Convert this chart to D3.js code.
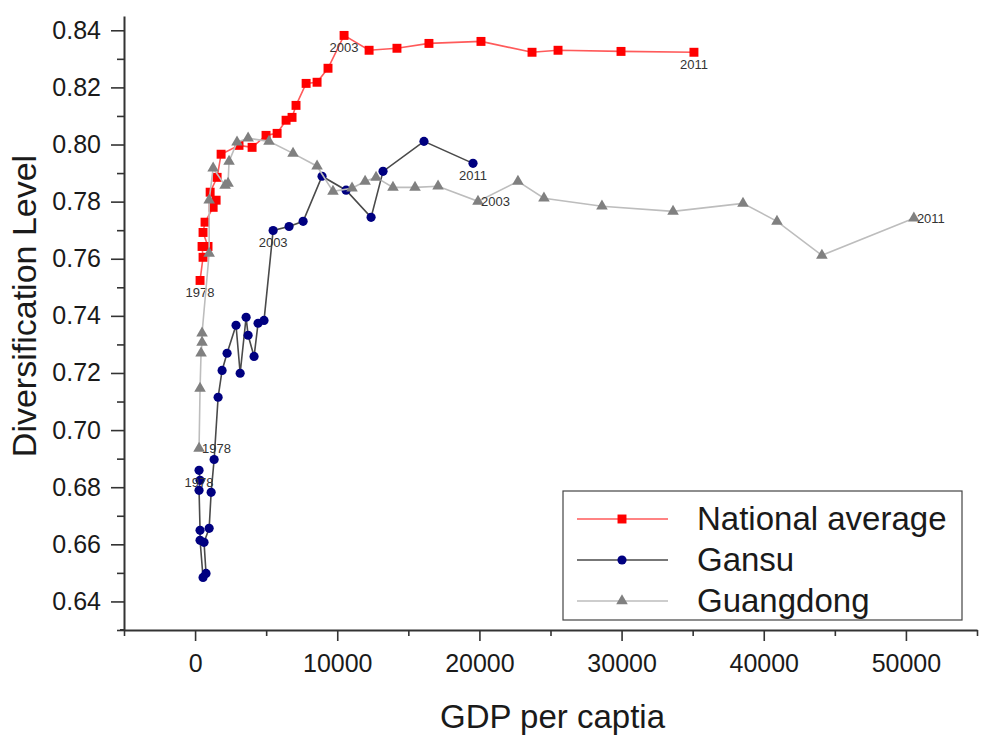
<!DOCTYPE html>
<html>
<head>
<meta charset="utf-8">
<script src="https://cdn.jsdelivr.net/npm/d3@7"></script>
<style>
  body { margin: 0; background: #fff; }
  text { font-family: "Liberation Sans", Arial, sans-serif; }
</style>
</head>
<body>
<div class="display"></div>
<script>
const WIDTH = 981;
const HEIGHT = 736;
const PLOT = { left: 124, right: 977, top: 16, bottom: 630 };

const X_TITLE = 'GDP per captia';
const Y_TITLE = 'Diversification Level';

const X_TICKS = [0, 10000, 20000, 30000, 40000, 50000];
const X_MINOR = [-5000, 5000, 15000, 25000, 35000, 45000, 55000];
const Y_TICKS = [0.64, 0.66, 0.68, 0.70, 0.72, 0.74, 0.76, 0.78, 0.80, 0.82, 0.84];
const Y_MINOR = [0.63, 0.65, 0.67, 0.69, 0.71, 0.73, 0.75, 0.77, 0.79, 0.81, 0.83];

// National average, 1978 -> 2011
const NATIONAL_GDP = [350, 560, 490, 910, 560, 700, 1270, 1480, 1060, 1550, 1830, 3090, 4010, 4990,
  5770, 6400, 6820, 7100, 7810, 8580, 9350, 10480, 12240, 14200, 16450, 20110, 23700, 25530, 29960, 35090];
const NATIONAL_DIV = [0.7524, 0.7605, 0.7643, 0.7643, 0.7692, 0.7728, 0.7780, 0.7805, 0.7833, 0.7885,
  0.7966, 0.7997, 0.7990, 0.8032, 0.8039, 0.8085, 0.8095, 0.8137, 0.8214, 0.8218, 0.8267, 0.8382,
  0.8330, 0.8337, 0.8354, 0.8361, 0.8323, 0.8330, 0.8326, 0.8323];

// Gansu
const GANSU_GDP = [280, 350, 280, 350, 350, 560, 770, 630, 990, 1130, 1340, 1620, 1900, 2250, 2880,
  3170, 3590, 3730, 4150, 4430, 4850, 5490, 6610, 7600, 8930, 10620, 12380, 13220, 16100, 19550];
const GANSU_DIV = [0.6859, 0.6824, 0.6789, 0.6649, 0.6614, 0.6484, 0.6498, 0.6607, 0.6656, 0.6782,
  0.6897, 0.7115, 0.7209, 0.7269, 0.7367, 0.7199, 0.7395, 0.7332, 0.7258, 0.7374, 0.7384, 0.7699,
  0.7713, 0.7731, 0.7889, 0.7840, 0.7745, 0.7906, 0.8011, 0.7934];

// Guangdong
const GUANGDONG_GDP = [280, 350, 420, 490, 490, 990, 990, 1270, 2110, 2320, 2390, 2950, 3730, 5200,
  6890, 8580, 9700, 11040, 11960, 12730, 13920, 15470, 17090, 19900, 22710, 24540, 28620, 33620,
  38540, 40930, 44090, 50560];
const GUANGDONG_DIV = [0.6936, 0.7146, 0.7269, 0.7307, 0.7339, 0.7619, 0.7805, 0.7917, 0.7857, 0.7864,
  0.7941, 0.8008, 0.8022, 0.8011, 0.7969, 0.7924, 0.7836, 0.7847, 0.7871, 0.7885, 0.7850, 0.7850,
  0.7854, 0.7801, 0.7871, 0.7812, 0.7784, 0.7766, 0.7794, 0.7731, 0.7612, 0.7742];

// year labels: [point index, text]
const NATIONAL_LABELS = [[0, '1978'], [21, '2003'], [29, '2011']];
const GANSU_LABELS = [[0, '1978'], [21, '2003'], [29, '2011']];
const GUANGDONG_LABELS = [[0, '1978'], [23, '2003'], [31, '2011']];

const SERIES = [
  { name: 'National average', gdp: NATIONAL_GDP, div: NATIONAL_DIV, labels: NATIONAL_LABELS,
    line: '#ff5a5a', fill: '#ff0000', symbol: d3.symbolSquare, size: 80, labelSide: 'below' },
  { name: 'Gansu', gdp: GANSU_GDP, div: GANSU_DIV, labels: GANSU_LABELS,
    line: '#4a4a4a', fill: '#000080', symbol: d3.symbolCircle, size: 66, labelSide: 'below' },
  { name: 'Guangdong', gdp: GUANGDONG_GDP, div: GUANGDONG_DIV, labels: GUANGDONG_LABELS,
    line: '#bdbdbd', fill: '#808080', symbol: d3.symbolTriangle, size: 58, labelSide: 'right' }
];

let svg, x, y;

function setupSvg() {
  svg = d3.select('.display')
    .append('svg')
    .attr('width', WIDTH)
    .attr('height', HEIGHT);

  x = d3.scaleLinear().domain([-5000, 55000]).range([PLOT.left, PLOT.right]);
  y = d3.scaleLinear().domain([0.63, 0.845]).range([PLOT.bottom, PLOT.top]);
}

function drawAxes() {
  const xAxis = svg.append('g')
    .attr('transform', `translate(0, ${PLOT.bottom})`)
    .call(d3.axisBottom(x).tickValues(X_TICKS).tickFormat(d3.format('d'))
      .tickSize(11).tickSizeOuter(0).tickPadding(13));
  xAxis.selectAll('text').style('font-size', '25px').attr('fill', '#1a1a1a');

  svg.append('g')
    .attr('transform', `translate(0, ${PLOT.bottom})`)
    .call(d3.axisBottom(x).tickValues(X_MINOR).tickFormat('').tickSize(6).tickSizeOuter(0))
    .select('.domain').remove();

  const yAxis = svg.append('g')
    .attr('transform', `translate(${PLOT.left}, 0)`)
    .call(d3.axisLeft(y).tickValues(Y_TICKS).tickFormat(d3.format('.2f'))
      .tickSize(13).tickSizeOuter(0).tickPadding(10));
  yAxis.selectAll('text').style('font-size', '25px').attr('fill', '#1a1a1a');

  svg.append('g')
    .attr('transform', `translate(${PLOT.left}, 0)`)
    .call(d3.axisLeft(y).tickValues(Y_MINOR).tickFormat('').tickSize(7).tickSizeOuter(0))
    .select('.domain').remove();

  svg.selectAll('.domain').attr('stroke', '#333').attr('stroke-width', 2);
  svg.selectAll('.tick line').attr('stroke', '#333').attr('stroke-width', 1.6);

  // small overhang of the x axis to the left of the y axis
  svg.append('line')
    .attr('x1', PLOT.left - 4).attr('x2', PLOT.left)
    .attr('y1', PLOT.bottom).attr('y2', PLOT.bottom)
    .attr('stroke', '#333').attr('stroke-width', 2);

  svg.append('text')
    .attr('x', (PLOT.left + PLOT.right) / 2 + 2)
    .attr('y', 728)
    .attr('text-anchor', 'middle')
    .style('font-size', '33px')
    .attr('fill', '#1a1a1a')
    .text(X_TITLE);

  svg.append('text')
    .attr('transform', 'translate(36, 306) rotate(-90)')
    .attr('text-anchor', 'middle')
    .style('font-size', '34px')
    .attr('fill', '#1a1a1a')
    .text(Y_TITLE);
}

function drawSeries() {
  SERIES.forEach(s => {
    const pts = s.gdp.map((g, i) => [g, s.div[i]]);
    const group = svg.append('g');

    group.append('path')
      .datum(pts)
      .attr('fill', 'none')
      .attr('stroke', s.line)
      .attr('stroke-width', 1.6)
      .attr('d', d3.line().x(d => x(d[0])).y(d => y(d[1])));

    group.selectAll('.mark')
      .data(pts)
      .enter()
      .append('path')
      .attr('transform', d => `translate(${x(d[0])}, ${y(d[1])})`)
      .attr('d', d3.symbol().type(s.symbol).size(s.size))
      .attr('fill', s.fill);

    s.labels.forEach(([i, txt]) => {
      const px = x(pts[i][0]);
      const py = y(pts[i][1]);
      group.append('text')
        .attr('x', s.labelSide === 'right' ? px + 3 : px)
        .attr('y', s.labelSide === 'right' ? py + 5 : py + 17)
        .attr('text-anchor', s.labelSide === 'right' ? 'start' : 'middle')
        .style('font-size', '13px')
        .attr('fill', '#333')
        .text(txt);
    });
  });
}

function drawLegend() {
  const legend = svg.append('g');

  legend.append('rect')
    .attr('x', 563)
    .attr('y', 491)
    .attr('width', 399)
    .attr('height', 129)
    .attr('fill', '#fff')
    .attr('stroke', '#444')
    .attr('stroke-width', 1.2);

  SERIES.forEach((s, i) => {
    const ry = 519 + i * 41;
    legend.append('line')
      .attr('x1', 577).attr('x2', 668)
      .attr('y1', ry).attr('y2', ry)
      .attr('stroke', s.line)
      .attr('stroke-width', 1.6);

    legend.append('path')
      .attr('transform', `translate(622, ${ry})`)
      .attr('d', d3.symbol().type(s.symbol).size(s.size))
      .attr('fill', s.fill);

    legend.append('text')
      .attr('x', 697)
      .attr('y', ry + 11)
      .style('font-size', '33px')
      .attr('fill', '#1a1a1a')
      .text(s.name);
  });
}

window.addEventListener('load', () => {
  setupSvg();
  drawAxes();
  drawSeries();
  drawLegend();
}, false);
</script>
</body>
</html>
